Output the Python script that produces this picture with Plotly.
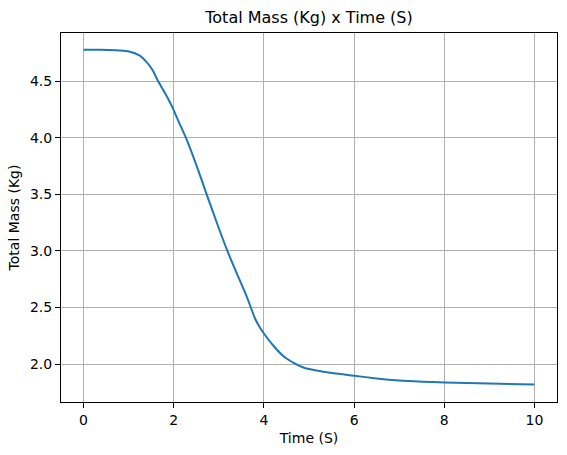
import plotly.graph_objects as go

time_s = [0, 0.4, 0.79, 1.01, 1.24, 1.38, 1.53, 1.64, 1.83, 1.97, 2.08, 2.27, 2.5, 2.73,
          3.0, 3.19, 3.41, 3.6, 3.71, 3.8, 3.9, 4.0, 4.23, 4.45, 4.68, 4.89, 5.11,
          5.55, 6.0, 6.5, 7.0, 7.5, 8.0, 9.0, 10.0]
total_mass = [4.778, 4.776, 4.770, 4.762, 4.727, 4.676, 4.598, 4.51, 4.378, 4.27, 4.168,
              4.00, 3.76, 3.50, 3.20, 3.00, 2.79, 2.615, 2.50, 2.405, 2.33, 2.27, 2.153,
              2.064, 2.006, 1.967, 1.947, 1.918, 1.897, 1.873, 1.855, 1.845, 1.838,
              1.828, 1.82]

x_ticks = [0, 2, 4, 6, 8, 10]
y_ticks = [2.0, 2.5, 3.0, 3.5, 4.0, 4.5]

font = "DejaVu Sans"

fig = go.Figure()
fig.add_trace(go.Scatter(x=time_s, y=total_mass, mode="lines",
                         line=dict(color="#1f77b4", width=2, shape="spline", smoothing=0.6),
                         showlegend=False, hoverinfo="skip"))

axis_common = dict(showline=True, linecolor="black", linewidth=1, mirror=True,
                   ticks="outside", ticklen=5, tickwidth=1, tickcolor="black",
                   showgrid=True, gridcolor="#b0b0b0", gridwidth=1, zeroline=False,
                   tickfont=dict(family=font, size=14, color="black"))

fig.update_layout(
    width=567, height=455,
    margin=dict(l=61, r=10, t=33, b=53),
    paper_bgcolor="white", plot_bgcolor="white",
    title=dict(text="Total Mass (Kg) x Time (S)", x=0.545, xanchor="center",
               y=1 - 17.5 / 455, yanchor="middle",
               font=dict(family=font, size=16, color="black")),
    xaxis=dict(range=[-0.5, 10.5], tickvals=x_ticks, ticktext=[str(v) for v in x_ticks],
               title=dict(text="Time (S)", font=dict(family=font, size=14, color="black"),
                          standoff=6),
               **axis_common),
    yaxis=dict(range=[1.665, 4.925], tickvals=y_ticks, ticktext=[f"{v:.1f}" for v in y_ticks],
               title=dict(text="Total Mass (Kg)", font=dict(family=font, size=14, color="black"),
                          standoff=7),
               **axis_common),
)

fig.write_html("out.html")
